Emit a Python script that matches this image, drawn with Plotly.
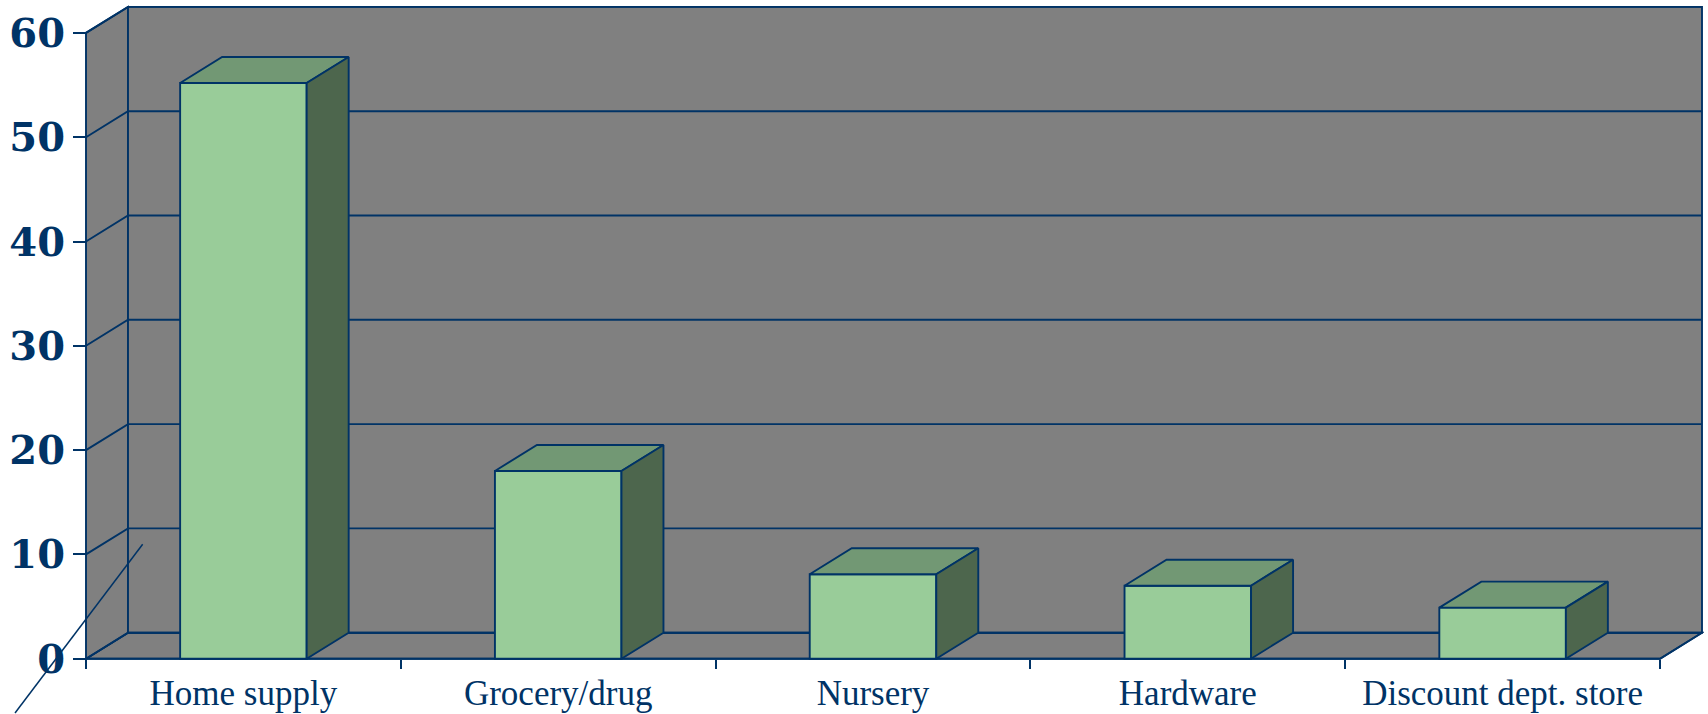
import plotly.graph_objects as go

categories = ["Home supply", "Grocery/drug", "Nursery", "Hardware", "Discount dept. store"]
values = [55.2, 18.0, 8.1, 7.0, 4.9]
y_ticks = [0, 10, 20, 30, 40, 50, 60]
x_bounds = [-0.5, 0.5, 1.5, 2.5, 3.5, 4.5]

NAVY = "#003366"
WALL = "#808080"
FRONT = "#99CC99"
TOP = "#729874"
SIDE = "#4D664D"
LW = 1.9

# picture geometry
W, H = 1708, 714
left_px, right_px, top_px, bottom_px = 84, 1704, 5, 661
x0_px, y0_px = 86.0, 658.7
px_per_x = 314.8
px_per_y = 10.43
DX = 42 / px_per_x   # depth in x units
DY = 26 / px_per_y   # depth in y units
BAR_W = 0.402

x_range = [-0.5 - (x0_px - left_px) / px_per_x, -0.5 + (right_px - x0_px) / px_per_x]
y_range = [-(bottom_px - y0_px) / px_per_y, (y0_px - top_px) / px_per_y]
x_first, x_last = x_bounds[0], x_bounds[-1]


def seg(points, color=NAVY, fill=None):
    path = "M" + " L".join(f"{x},{y}" for x, y in points)
    if fill:
        path += " Z"
    return dict(type="path", path=path, xref="x", yref="y", layer="below",
                fillcolor=fill if fill else "rgba(0,0,0,0)",
                line=dict(color=color, width=LW))


top = y_ticks[-1]
shapes = [
    # floor, left wall, back wall
    seg([(x_first, 0), (x_last, 0), (x_last + DX, DY), (x_first + DX, DY)], fill=WALL),
    seg([(x_first, 0), (x_first, top), (x_first + DX, top + DY), (x_first + DX, DY)], fill=WALL),
    seg([(x_first + DX, DY), (x_first + DX, top + DY), (x_last + DX, top + DY), (x_last + DX, DY)], fill=WALL),
]
for t in y_ticks:
    shapes.append(seg([(x_first, t), (x_first + DX, t + DY), (x_last + DX, t + DY)]))
shapes.append(seg([(x_first, 0), (x_last, 0), (x_last + DX, DY)]))

# stray diagonal line of the original slide
stray_x = [-0.32, -0.7255]
stray_y = [10.97, -5.2]
to_px = lambda v, r: (v - r[0]) / (r[1] - r[0])
shapes.append(dict(type="line", xref="paper", yref="paper", layer="above",
                   x0=to_px(stray_x[0], x_range), y0=to_px(stray_y[0], y_range),
                   x1=to_px(stray_x[1], x_range), y1=to_px(stray_y[1], y_range),
                   line=dict(color=NAVY, width=1.5)))

top_x, top_y, side_x, side_y = [], [], [], []
for i, v in enumerate(values):
    l, r = i - BAR_W / 2, i + BAR_W / 2
    top_x += [l, r, r + DX, l + DX, l, None]
    top_y += [v, v, v + DY, v + DY, v, None]
    side_x += [r, r + DX, r + DX, r, r, None]
    side_y += [0, DY, v + DY, v, 0, None]

fig = go.Figure()
fig.add_trace(go.Bar(x=list(range(len(categories))), y=values, width=BAR_W,
                     marker=dict(color=FRONT, line=dict(color=NAVY, width=LW)),
                     showlegend=False, hoverinfo="skip"))
for xs, ys, color in [(top_x, top_y, TOP), (side_x, side_y, SIDE)]:
    fig.add_trace(go.Scatter(x=xs, y=ys, mode="lines", fill="toself", fillcolor=color,
                             line=dict(color=NAVY, width=LW), showlegend=False, hoverinfo="skip"))

fig.update_layout(
    width=W, height=H, autosize=False,
    margin=dict(l=left_px, r=W - right_px, t=top_px, b=H - bottom_px, pad=0),
    paper_bgcolor="white", plot_bgcolor="white",
    shapes=shapes,
    xaxis=dict(
        range=x_range, showgrid=False, zeroline=False, showline=False, automargin=False,
        anchor="free", position=(bottom_px - y0_px) / (bottom_px - top_px),
        tickmode="array", tickvals=list(range(len(categories))), ticktext=categories,
        ticks="", ticklabelstandoff=10,
        tickfont=dict(family="Liberation Serif", size=35, color=NAVY),
        minor=dict(tickmode="array", tickvals=x_bounds, ticks="outside", ticklen=9,
                   tickwidth=LW, tickcolor=NAVY, showgrid=False),
    ),
    yaxis=dict(
        range=y_range, showgrid=False, zeroline=False, showline=False, automargin=False,
        anchor="free", position=(x0_px - left_px) / (right_px - left_px),
        tickmode="array", tickvals=y_ticks, ticks="outside", ticklen=13,
        tickwidth=LW, tickcolor=NAVY, ticklabelstandoff=0,
        tickfont=dict(family="DejaVu Serif", size=40, color=NAVY, weight="bold"),
    ),
)

fig.write_html("out.html", config={"displayModeBar": False},
               post_script="document.body.style.margin='0';")
